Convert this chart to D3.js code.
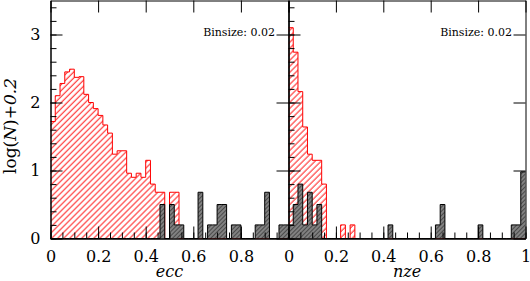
<!DOCTYPE html>
<html>
<head>
<meta charset="utf-8">
<script src="https://cdn.jsdelivr.net/npm/d3@7"></script>
<style>
  body { margin: 0; background: #fff; }
  svg text { font-family: 'DejaVu Serif', serif; }
</style>
</head>
<body>
<div id="chart"></div>
<script>
'use strict'
// histogram values are log(N)+0.2 per bin of 0.02 (50 bins from 0 to 1)
var binSize = 0.02
var eccRed = [1.72, 2.10, 2.28, 2.45, 2.49, 2.37, 2.38, 2.12, 2.00, 1.91,
              1.81, 1.67, 1.55, 1.24, 1.29, 1.29, 0.96, 0.90, 0.96, 0.90,
              1.15, 0.80, 0.68, 0.68, 0, 0.68, 0.68, 0, 0, 0,
              0, 0, 0, 0, 0, 0, 0, 0, 0, 0,
              0, 0, 0, 0, 0, 0, 0, 0, 0, 0]
var eccBlack = [0, 0, 0, 0, 0, 0, 0, 0, 0, 0,
                0, 0, 0, 0, 0, 0, 0, 0, 0, 0,
                0, 0, 0, 0.5, 0, 0.5, 0.2, 0.2, 0, 0,
                0, 0.68, 0, 0.2, 0.2, 0.5, 0.5, 0, 0.2, 0.2,
                0, 0, 0, 0.2, 0.2, 0.68, 0, 0, 0.2, 0.2]
var nzeRed = [3.10, 2.74, 2.16, 1.64, 1.24, 1.15, 1.15, 0.80, 0, 0,
              0, 0.2, 0, 0.2, 0, 0, 0, 0, 0, 0,
              0, 0, 0, 0, 0, 0, 0, 0, 0, 0,
              0, 0, 0, 0, 0, 0, 0, 0, 0, 0,
              0, 0, 0, 0, 0, 0, 0, 0, 0, 0]
var nzeBlack = [0.2, 0.5, 0.8, 0.2, 0.68, 0.2, 0.5, 0, 0, 0,
                0, 0, 0, 0, 0, 0, 0, 0, 0, 0,
                0, 0.2, 0, 0, 0, 0, 0, 0, 0, 0,
                0, 0.2, 0.5, 0, 0, 0, 0, 0, 0, 0,
                0.2, 0, 0, 0, 0, 0, 0, 0.2, 0.2, 0.98]

var xMajor = [0, 0.2, 0.4, 0.6, 0.8, 1]
var yMajor = [0, 1, 2, 3]
var panels = [
  { name: 'ecc', red: eccRed, black: eccBlack, x0: 50.5, x1: 288.5, labels: [0, 0.2, 0.4, 0.6, 0.8] },
  { name: 'nze', red: nzeRed, black: nzeBlack, x0: 288.5, x1: 525.5, labels: [0, 0.2, 0.4, 0.6, 0.8, 1] }
]

var W = 530, H = 281
var svg = d3.select('#chart').append('svg')
            .attr('width', W)
            .attr('height', H)

var defs = svg.append('defs')
var hr = defs.append('pattern')
             .attr('id', 'hatchRed')
             .attr('width', 4.25).attr('height', 4.25)
             .attr('patternUnits', 'userSpaceOnUse')
             .attr('patternTransform', 'rotate(45)')
hr.append('line').attr('x1', 1).attr('y1', 0).attr('x2', 1).attr('y2', 4.25)
  .attr('stroke', '#ff0000').attr('stroke-width', 0.9)
var hb = defs.append('pattern')
             .attr('id', 'hatchBlack')
             .attr('width', 3).attr('height', 3)
             .attr('patternUnits', 'userSpaceOnUse')
             .attr('patternTransform', 'rotate(45)')
hb.append('rect').attr('width', 3).attr('height', 3).attr('fill', '#4a4a4a')
hb.append('line').attr('x1', 1).attr('y1', 0).attr('x2', 1).attr('y2', 3)
  .attr('stroke', '#b8b8b8').attr('stroke-width', 1)

var y = d3.scaleLinear().domain([0, 3.5]).range([238.5, 0.5])

// step outline points for a histogram
var stepPoints = function (vals) {
  var pts = []
  vals.forEach(function (v, i) {
    pts.push([i * binSize, v])
    pts.push([(i + 1) * binSize, v])
  })
  return pts
}

panels.forEach(function (p) {
  var x = d3.scaleLinear().domain([0, 1]).range([p.x0, p.x1])
  var g = svg.append('g')
  var area = d3.area().x(function (d) { return x(d[0]) }).y0(y(0)).y1(function (d) { return y(d[1]) })
  var line = d3.line().x(function (d) { return x(d[0]) }).y(function (d) { return y(d[1]) })

  var rp = stepPoints(p.red)
  g.append('path').attr('d', area(rp)).attr('fill', 'url(#hatchRed)')
  g.append('path').attr('d', line(rp)).attr('fill', 'none')
   .attr('stroke', '#ff0000').attr('stroke-width', 1)

  var bp = stepPoints(p.black)
  g.append('path').attr('d', area(bp)).attr('fill', 'url(#hatchBlack)')
  g.append('path').attr('d', line(bp)).attr('fill', 'none')
   .attr('stroke', '#000').attr('stroke-width', 1)

  // axes: inward ticks on all four sides
  var minorX = d3.range(0, 1.0001, 0.05)
  var minorY = d3.range(0, 3.5001, 0.2)
  var bottom = svg.append('g').attr('transform', 'translate(0,' + y(0) + ')')
  bottom.call(d3.axisBottom(x).tickValues(minorX).tickSize(-6).tickSizeOuter(0).tickFormat(''))
  var bl = svg.append('g').attr('transform', 'translate(0,' + y(0) + ')')
  bl.call(d3.axisBottom(x).tickValues(xMajor).tickSize(-12).tickSizeOuter(0).tickPadding(12)
          .tickFormat(function (d) { return p.labels.indexOf(d) >= 0 ? d3.format('~g')(d) : '' }))
  var top = svg.append('g').attr('transform', 'translate(0,' + y(3.5) + ')')
  top.call(d3.axisTop(x).tickValues(minorX).tickSize(-6).tickSizeOuter(0).tickFormat(''))
  top.call(d3.axisTop(x).tickValues(xMajor).tickSize(-12).tickSizeOuter(0).tickFormat(''))

  var left = svg.append('g').attr('transform', 'translate(' + p.x0 + ',0)')
  left.call(d3.axisLeft(y).tickValues(minorY).tickSize(-6).tickSizeOuter(0).tickFormat(''))
  var ll = svg.append('g').attr('transform', 'translate(' + p.x0 + ',0)')
  ll.call(d3.axisLeft(y).tickValues(yMajor).tickSize(-12).tickSizeOuter(0).tickPadding(10)
          .tickFormat(function (d) { return p.name === 'ecc' ? d : '' }))
  var right = svg.append('g').attr('transform', 'translate(' + p.x1 + ',0)')
  right.call(d3.axisRight(y).tickValues(minorY).tickSize(-6).tickSizeOuter(0).tickFormat(''))
  right.call(d3.axisRight(y).tickValues(yMajor).tickSize(-12).tickSizeOuter(0).tickFormat(''))

  svg.append('text')
     .attr('x', p.x1 - 13.5).attr('y', 36)
     .attr('text-anchor', 'end')
     .attr('font-size', 11)
     .text('Binsize: 0.02')

  svg.append('text')
     .attr('x', (p.x0 + p.x1) / 2).attr('y', 277)
     .attr('text-anchor', 'middle')
     .attr('font-size', 16)
     .attr('font-style', 'italic')
     .text(p.name)
})

svg.selectAll('.tick text').attr('font-size', 16).attr('font-family', "'DejaVu Serif', serif").attr('fill', '#000')
svg.selectAll('.domain, .tick line').attr('stroke', '#000')

var yl = svg.append('text')
            .attr('transform', 'translate(16,126) rotate(-90)')
            .attr('text-anchor', 'middle')
            .attr('font-size', 17)
yl.append('tspan').text('log(')
yl.append('tspan').attr('font-style', 'italic').text('N')
yl.append('tspan').text(')')
yl.append('tspan').attr('font-style', 'italic').text('+0.2')
</script>
</body>
</html>
